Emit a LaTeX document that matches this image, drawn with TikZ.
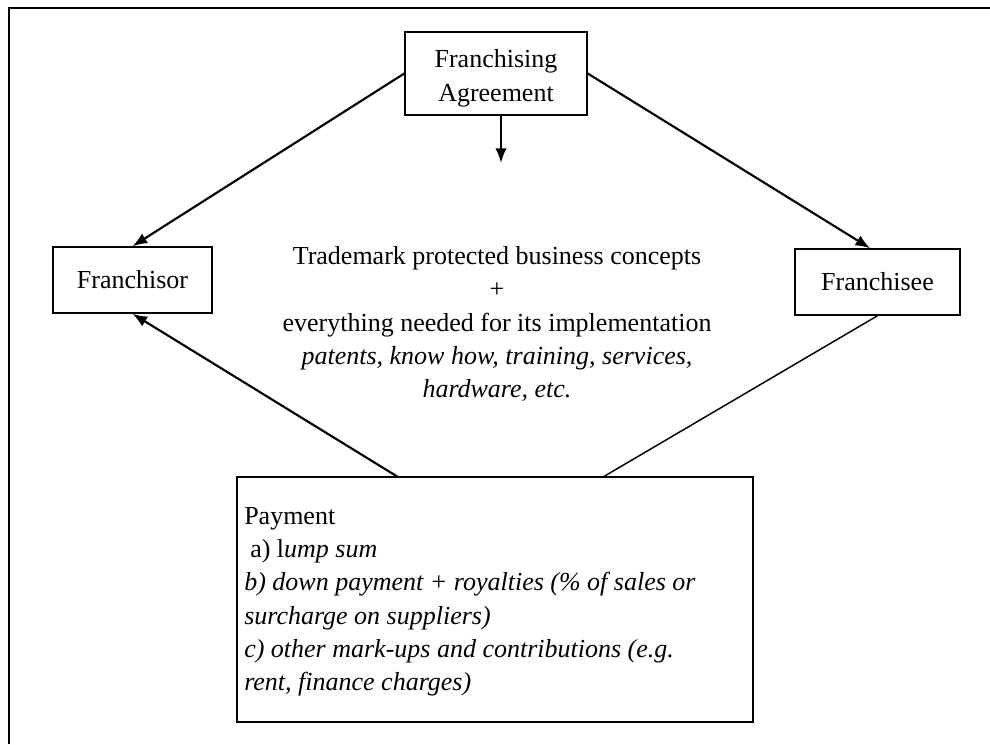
\documentclass[tikz,border=0pt]{standalone}
\usepackage{fontspec}
\setmainfont{Liberation Serif}
\usetikzlibrary{arrows.meta}

\begin{document}
\begin{tikzpicture}[x=0.75pt, y=-0.75pt,
    box/.style={draw, line width=1.1pt, align=center, inner sep=0pt, font=\fontsize{19.5}{25}\selectfont},
    txt/.style={inner sep=0pt, font=\fontsize{19.5}{25}\selectfont},
    conn/.style={line width=1.6pt, -{Latex[length=11pt, width=8.5pt]}},
    plain/.style={line width=1.1pt}]
    \useasboundingbox (0,0) rectangle (990,744);
    \draw[line width=1.5pt] (9,744) -- (9,8) -- (990,8);

    \node[box, minimum width=136.5pt, minimum height=62.25pt, text height=45.5pt] (agree) at (496,73.5) {Franchising\\Agreement};
    \node[box, minimum width=119.25pt, minimum height=49.5pt] (fsor) at (132.5,280) {Franchisor};
    \node[box, minimum width=123.75pt, minimum height=49.5pt] (fsee) at (877.5,282) {Franchisee};
    \node[box, minimum width=387pt, minimum height=183.75pt] (pay) at (495,599.5) {};

    \node[txt, align=center] (offer) at (497,324) {Trademark protected business concepts\\+\\everything needed for its implementation\\\textit{patents, know how, training, services,}\\\textit{hardware, etc.}};
    \node[txt, align=left, anchor=north west] (paytext) at (244,507) {Payment\\\hspace*{4.5pt}a) l\textit{ump sum}\\\textit{b) down payment + royalties (\% of sales or}\\\textit{surcharge on suppliers)}\\\textit{c) other mark-ups and contributions (e.g.}\\\textit{rent, finance charges)}};

    \coordinate (down) at (501,163);
    \coordinate (p1) at (398,477);
    \coordinate (p2) at (603,477);

    \draw[conn] (agree.west) -- (fsor.north);
    \draw[conn] (agree.east) -- ([xshift=-5.5pt]fsee.north);
    \draw[conn] (agree.south -| down) -- (down);
    \draw[conn] (p1) -- (fsor.south);
    \draw[plain] (p2) -- (fsee.south);
\end{tikzpicture}
\end{document}
